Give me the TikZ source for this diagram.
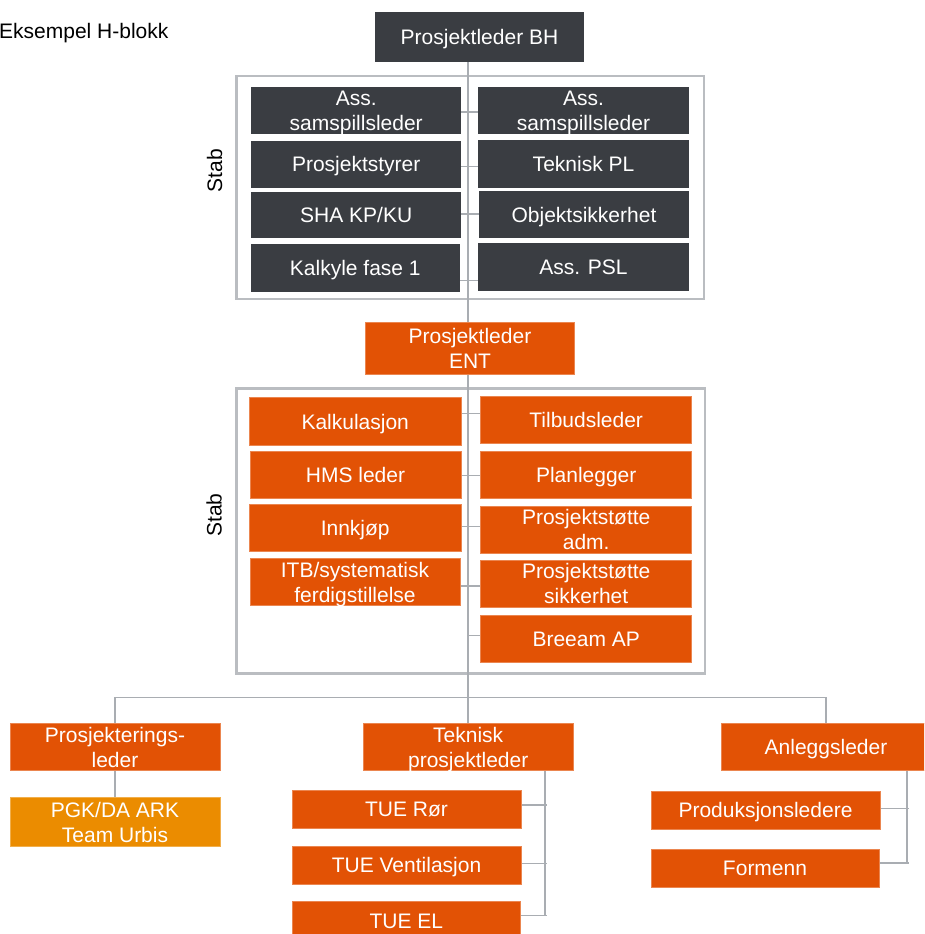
\documentclass[tikz,border=0pt]{standalone}
\usepackage{fontspec}
\setmainfont{Liberation Sans}
\usetikzlibrary{backgrounds}
\definecolor{dk}{HTML}{3A3D42}
\definecolor{og}{HTML}{E25205}
\definecolor{lo}{HTML}{EB8C00}
\definecolor{ln}{HTML}{A9ADB2}
\definecolor{fr}{HTML}{BABDC1}
\tikzset{
  box/.style={rectangle, inner sep=0pt, text=white, align=center,
    font=\fontsize{21}{25}\selectfont, text height=15pt, text depth=0pt},
  dkbox/.style={box, fill=dk},
  ogbox/.style={box, fill=og, draw=og!70!white, line width=0.6pt},
  lobox/.style={box, fill=lo, draw=lo!70!white, line width=0.6pt},
  two/.style={text height=40pt},
  sz/.style 2 args={minimum width=#1pt, minimum height=#2pt},
  conn/.style={draw=ln, line width=1.5pt},
  frame/.style={draw=fr, line width=2.6pt},
  lbl/.style={text=black, inner sep=0pt, font=\fontsize{21}{25}\selectfont}
}
\begin{document}
\begin{tikzpicture}[x=1pt, y=-1pt]
\useasboundingbox (0,0) rectangle (924,934);
\clip (0,0) rectangle (924,934);

% title and side labels
\node[lbl, anchor=base west] (eks) at (-1,38.3) {Eksempel H-blokk};
\node[lbl, rotate=90] (stab1) at (214.5,170.5) {Stab};
\node[lbl, rotate=90] (stab2) at (214,515) {Stab};

% client project manager and staff
\node[dkbox, sz={209}{49.7}] (bh) at (479.5,37.2) {Prosjektleder BH};
\node[dkbox, two, sz={209.5}{47}] (a1) at (356.2,110.8) {Ass.\\samspillsleder};
\node[dkbox, sz={209.5}{47}] (a2) at (356.2,164.2) {Prosjektstyrer};
\node[dkbox, sz={209.5}{46.6}] (a3) at (356.2,215) {SHA KP/KU};
\node[dkbox, sz={209.3}{47.7}] (a4) at (355.3,267.9) {Kalkyle fase 1};
\node[dkbox, two, sz={210.4}{47}] (b1) at (583.5,110.8) {Ass.\\samspillsleder};
\node[dkbox, sz={210.4}{47.7}] (b2) at (583.5,163.9) {Teknisk PL};
\node[dkbox, sz={209.4}{47.3}] (b3) at (584,214.7) {Objektsikkerhet};
\node[dkbox, sz={210.4}{47.4}] (b4) at (583.5,267) {Ass. PSL};

% contractor project manager and staff
\node[ogbox, two, sz={208.6}{51.7}] (ent) at (470,348.2) {Prosjektleder\\ENT};
\node[ogbox, sz={211.7}{47.6}] (c1) at (355.2,421.5) {Kalkulasjon};
\node[ogbox, sz={211}{47.3}] (c2) at (355.5,474.7) {HMS leder};
\node[ogbox, sz={211.7}{47.4}] (c3) at (355.2,528) {Innkjøp};
\node[ogbox, two, sz={210}{47.4}] (c4) at (355,582) {ITB/systematisk\\ferdigstillelse};
\node[ogbox, sz={211}{47.3}] (d1) at (586.2,419.7) {Tilbudsleder};
\node[ogbox, sz={211}{47.3}] (d2) at (586.2,474.7) {Planlegger};
\node[ogbox, two, sz={211}{47.3}] (d3) at (586.2,529.7) {Prosjektstøtte\\adm.};
\node[ogbox, two, sz={211}{47.7}] (d4) at (586.2,583.8) {Prosjektstøtte\\sikkerhet};
\node[ogbox, sz={211}{47.4}] (d5) at (586.2,639) {Breeam AP};

% line organisation
\node[ogbox, two, sz={210}{47.4}] (prl) at (115,747) {Prosjekterings-\\leder};
\node[lobox, two, sz={210}{49.4}] (pgk) at (115,822) {PGK/DA ARK\\Team Urbis};
\node[ogbox, two, sz={209.7}{47.4}] (tek) at (468.2,747) {Teknisk\\prosjektleder};
\node[ogbox, sz={229}{38.7}] (t1) at (406.5,809.3) {TUE Rør};
\node[ogbox, sz={229}{38.3}] (t2) at (406.5,865.2) {TUE Ventilasjon};
\node[ogbox, sz={228.7}{39}] (t3) at (406.3,920.5) {TUE EL};
\node[ogbox, sz={210}{47.4}] (anl) at (826,747) {Anleggsleder};
\node[ogbox, sz={229}{38.7}] (pl) at (765.5,810.3) {Produksjonsledere};
\node[ogbox, sz={228}{38}] (fm) at (765,868) {Formenn};

\begin{scope}[on background layer]
  % staff frames
  \draw[frame] (236.7,76) rectangle (704,299);
  \draw[frame] (236.7,388.3) rectangle (705,673.3);

  % main spine
  \draw[conn] (bh.south -| tek.north) -- (tek.north);

  % staff links, top block
  \draw[conn] (a1.east |- 0,112) -- (b1.west |- 0,112);
  \draw[conn] (a2.east |- 0,166.3) -- (b2.west |- 0,166.3);
  \draw[conn] (a3.east |- 0,214) -- (b3.west |- 0,214);
  \draw[conn] (a4.east |- 0,280.7) -- (b4.west |- 0,280.7);

  % staff links, contractor block
  \draw[conn] (c1.east |- 0,413.3) -- (d1.west |- 0,413.3);
  \draw[conn] (c2.east |- 0,475.7) -- (d2.west |- 0,475.7);
  \draw[conn] (c3.east |- 0,526.7) -- (d3.west |- 0,526.7);
  \draw[conn] (c4.east |- 0,586) -- (d4.west |- 0,586);
  \draw[conn] (tek.north |- 0,635.3) -- (d5.west |- 0,635.3);

  % branch bus
  \draw[conn] (prl.north) -- (prl.north |- 0,697.7) -- (anl.north |- 0,697.7) -- (anl.north);
  \draw[conn] (prl.south) -- (pgk.north);

  % technical sub-contractors
  \coordinate (tektop) at (545,770.7);
  \coordinate (tekend) at (545,915.7);
  \draw[conn] (tektop) -- (tekend);
  \draw[conn] (t1.east |- 0,805) -- (547.3,805);
  \draw[conn] (t2.east |- 0,863.7) -- (547.3,863.7);
  \draw[conn] (t3.east |- 0,915.7) -- (547.3,915.7);

  % site management
  \coordinate (anltop) at (907,770.7);
  \coordinate (anlend) at (907,863);
  \draw[conn] (anltop) -- (anlend);
  \draw[conn] (pl.east |- 0,808.7) -- (908.7,808.7);
  \draw[conn] (fm.east |- 0,863) -- (908.7,863);
\end{scope}
\end{tikzpicture}
\end{document}
